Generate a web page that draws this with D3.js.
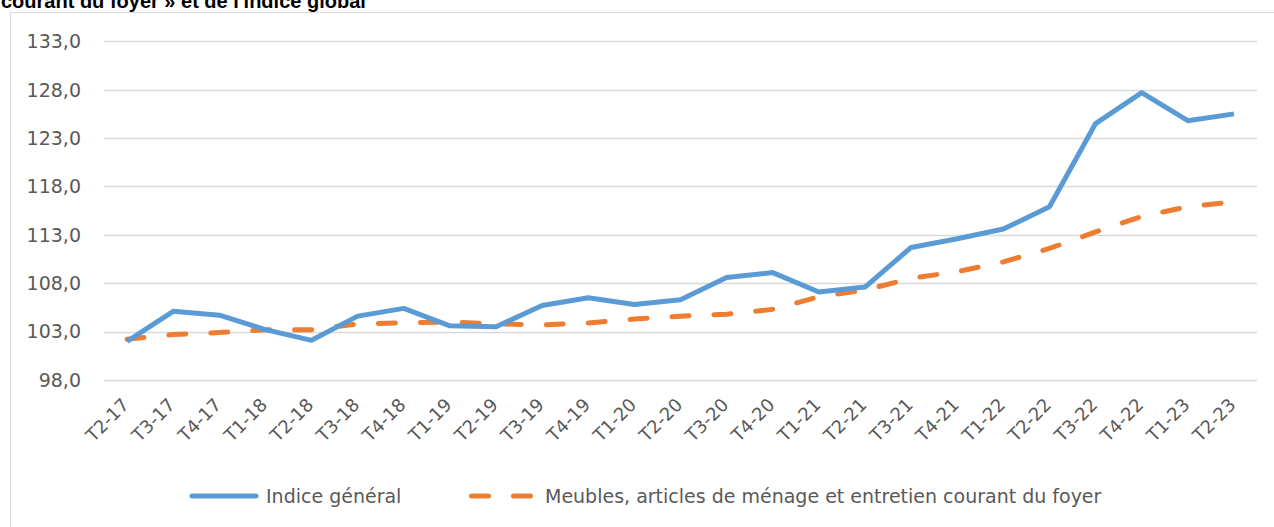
<!DOCTYPE html>
<html>
<head>
<meta charset="utf-8">
<script src="https://cdn.jsdelivr.net/npm/d3@7"></script>
<style>
  body { margin: 0; background: #fff; }
  svg { display: block; }
</style>
</head>
<body>
<div id="chart"></div>
<script>
// quarters
var quarters = ["T2-17","T3-17","T4-17","T1-18","T2-18","T3-18","T4-18","T1-19","T2-19","T3-19","T4-19",
  "T1-20","T2-20","T3-20","T4-20","T1-21","T2-21","T3-21","T4-21","T1-22","T2-22","T3-22","T4-22","T1-23","T2-23"];

var indiceGeneral = [102.0, 105.1, 104.7, 103.2, 102.1, 104.6, 105.4, 103.6, 103.5, 105.7, 106.5,
  105.8, 106.3, 108.6, 109.1, 107.1, 107.6, 111.7, 112.6, 113.6, 115.9, 124.5, 127.7, 124.8, 125.5];

var meubles = [102.2, 102.7, 102.9, 103.2, 103.2, 103.8, 103.9, 104.0, 103.8, 103.7, 103.9,
  104.3, 104.6, 104.8, 105.3, 106.6, 107.3, 108.5, 109.2, 110.2, 111.6, 113.3, 114.9, 115.9, 116.4];

var yTicks = [98, 103, 108, 113, 118, 123, 128, 133];

var seriesNames = ["Indice général", "Meubles, articles de ménage et entretien courant du foyer"];

var W = 1274, H = 527;
var font = "'DejaVu Sans', sans-serif";

var svg = d3.select("#chart").append("svg")
  .attr("width", W)
  .attr("height", H);

// title (cut at top like the source)
svg.append("text")
  .attr("x", 1)
  .attr("y", 8)
  .style("font-family", "'Liberation Sans', Arial, sans-serif")
  .style("font-weight", "bold")
  .style("font-size", "20px")
  .style("fill", "#000")
  .text("courant du foyer » et de l'indice global");

// chart frame
svg.append("rect")
  .attr("x", 10.5)
  .attr("y", 12.5)
  .attr("width", W - 10)
  .attr("height", H)
  .style("fill", "none")
  .style("stroke", "#d9d9d9")
  .style("stroke-width", 1);

var x = d3.scalePoint()
  .domain(quarters)
  .range([104, 1257])
  .padding(0.5);

var y = d3.scaleLinear()
  .domain([98, 133])
  .range([380, 41.3]);

var fmt = function(v){ return d3.format(".1f")(v).replace(".", ","); };

// gridlines
svg.append("g")
  .selectAll("line")
  .data(yTicks)
  .enter()
  .append("line")
  .attr("x1", 104)
  .attr("x2", 1257)
  .attr("y1", function(d){ return Math.round(y(d)) + 0.5; })
  .attr("y2", function(d){ return Math.round(y(d)) + 0.5; })
  .style("stroke", "#d9d9d9")
  .style("stroke-width", "1.5px");

// y labels
svg.append("g")
  .selectAll("text")
  .data(yTicks)
  .enter()
  .append("text")
  .attr("x", 81)
  .attr("y", function(d){ return y(d); })
  .attr("dy", "0.36em")
  .attr("text-anchor", "end")
  .style("font-family", font)
  .style("font-size", "19px")
  .style("fill", "#595959")
  .text(fmt);

// x labels, rotated
svg.append("g")
  .selectAll("text")
  .data(quarters)
  .enter()
  .append("text")
  .attr("text-anchor", "end")
  .attr("transform", function(d){ return "translate(" + (x(d) + 3) + ",406) rotate(-45)"; })
  .style("font-family", font)
  .style("font-size", "18px")
  .style("fill", "#595959")
  .text(function(d){ return d; });

var line = d3.line()
  .x(function(d, i){ return x(quarters[i]); })
  .y(function(d){ return y(d); });

svg.append("path")
  .datum(meubles)
  .attr("d", line)
  .style("fill", "none")
  .style("stroke", "#ed7d31")
  .style("stroke-width", "5px")
  .style("stroke-linecap", "round")
  .style("stroke-linejoin", "round")
  .style("stroke-dasharray", "17,25");

svg.append("path")
  .datum(indiceGeneral)
  .attr("d", line)
  .style("fill", "none")
  .style("stroke", "#5b9bd5")
  .style("stroke-width", "5px")
  .style("stroke-linejoin", "round");

// legend
var ly = 496;
var legend = svg.append("g");

legend.append("line")
  .attr("x1", 192).attr("x2", 256)
  .attr("y1", ly).attr("y2", ly)
  .style("stroke", "#5b9bd5")
  .style("stroke-width", "5px")
  .style("stroke-linecap", "round");

legend.append("text")
  .attr("x", 266)
  .attr("y", ly)
  .attr("dy", "0.36em")
  .style("font-family", font)
  .style("font-size", "19px")
  .style("fill", "#595959")
  .text(seriesNames[0]);

legend.append("line")
  .attr("x1", 471.5).attr("x2", 531)
  .attr("y1", ly).attr("y2", ly)
  .style("stroke", "#ed7d31")
  .style("stroke-width", "5px")
  .style("stroke-linecap", "round")
  .style("stroke-dasharray", "17,25");

legend.append("text")
  .attr("x", 545)
  .attr("y", ly)
  .attr("dy", "0.36em")
  .style("font-family", font)
  .style("font-size", "19px")
  .style("fill", "#595959")
  .text(seriesNames[1]);
</script>
</body>
</html>
